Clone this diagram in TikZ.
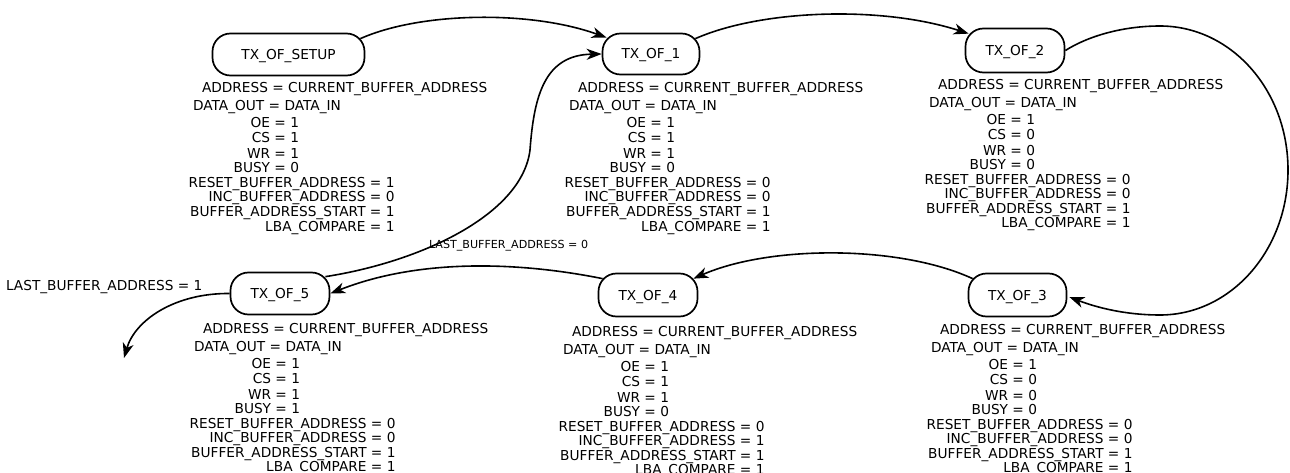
\documentclass[tikz,border=0pt]{standalone}
\usepackage{fontspec}
\setmainfont{DejaVu Sans}
\usetikzlibrary{arrows.meta}

\tikzset{
  state/.style={draw, line width=1.7pt, rounded corners=18pt, inner sep=0pt,
    font=\fontsize{13.7}{16}\selectfont, text height=10pt, text depth=0pt},
  val/.style={inner sep=0pt, outer sep=0pt, font=\fontsize{13.7}{16}\selectfont},
  small/.style={inner sep=0pt, outer sep=0pt, font=\fontsize{11.1}{13}\selectfont},
  trans/.style={line width=1.6pt, -{Stealth[length=15pt,width=11pt,inset=4.5pt]}},
}

% Output assignments of one state, placed relative to (#2,#3)
% #1 name prefix, #4 OE, #5 CS, #6 WR, #7 BUSY, #8 RESET_BUFFER_ADDRESS, #9 INC_BUFFER_ADDRESS
\newcommand\stateoutputs[9]{%
  \begin{scope}[shift={(#2,#3)}]
    \node[val, anchor=base west] (#1-addr) at (0,5)    {ADDRESS = CURRENT\_BUFFER\_ADDRESS};
    \node[val, anchor=base west] (#1-dout) at (-9,23)  {DATA\_OUT = DATA\_IN};
    \node[val, anchor=base east] (#1-oe)   at (97,40)  {OE = #4};
    \node[val, anchor=base east] (#1-cs)   at (97,55)  {CS = #5};
    \node[val, anchor=base east] (#1-wr)   at (97,71)  {WR = #6};
    \node[val, anchor=base east] (#1-busy) at (97,85)  {BUSY = #7};
    \node[val, anchor=base east] (#1-rst)  at (192.5,100) {RESET\_BUFFER\_ADDRESS = #8};
    \node[val, anchor=base east] (#1-inc)  at (192.5,114) {INC\_BUFFER\_ADDRESS = #9};
    \node[val, anchor=base east] (#1-bas)  at (192.5,129) {BUFFER\_ADDRESS\_START = 1};
    \node[val, anchor=base east] (#1-lba)  at (192.5,143) {LBA\_COMPARE = 1};
  \end{scope}}

\begin{document}
\begin{tikzpicture}[x=1pt, y=-1pt]
  \path[fill=white] (0,0) rectangle (1290,473);
  \useasboundingbox (0,0) rectangle (1290,473);

  % states
  \node[state, minimum width=152pt, minimum height=42pt] (setup) at (288.5,54.5) {TX\_OF\_SETUP};
  \node[state, minimum width=97pt,  minimum height=41pt] (tx1) at (651,54)     {TX\_OF\_1};
  \node[state, minimum width=99pt,  minimum height=44pt] (tx2) at (1015,50.5)  {TX\_OF\_2};
  \node[state, minimum width=98pt,  minimum height=43pt] (tx3) at (1017.5,295) {TX\_OF\_3};
  \node[state, minimum width=99pt,  minimum height=43pt] (tx4) at (648,295)    {TX\_OF\_4};
  \node[state, minimum width=99pt,  minimum height=42pt] (tx5) at (280,293.5)  {TX\_OF\_5};

  % outputs of each state
  \stateoutputs{os}{202}{88}{1}{1}{1}{0}{1}{0}
  \stateoutputs{o1}{578}{88}{1}{1}{1}{0}{0}{0}
  \stateoutputs{o2}{938}{85}{1}{0}{0}{0}{0}{0}
  \stateoutputs{o3}{940}{329}{1}{0}{0}{0}{0}{0}
  \stateoutputs{o4}{572}{331}{1}{1}{1}{0}{0}{1}
  \stateoutputs{o5}{203}{328}{1}{1}{1}{1}{0}{0}

  % transitions
  \draw[trans] ([shift={(-5,6)}]setup.north east)
    .. controls (420,12) and (530,10) .. ([shift={(5,5)}]tx1.north west);
  \draw[trans] ([shift={(-5,6)}]tx1.north east)
    .. controls (760,10) and (880,5) .. ([shift={(4,6)}]tx2.north west);
  \draw[trans] (tx2.east)
    .. controls (1090,35) and (1125,26) .. (1160,26)
    .. controls (1231,26) and (1288,90) .. (1288,170)
    .. controls (1288,250) and (1231,315) .. (1160,315)
    .. controls (1120,315) and (1090,305) .. ([shift={(2,2)}]tx3.east);
  \draw[trans] ([shift={(5,6)}]tx3.north west)
    .. controls (900,245) and (770,245) .. ([shift={(-5,6)}]tx4.north east);
  \draw[trans] ([shift={(5,6)}]tx4.north west)
    .. controls (520,262) and (420,258) .. (tx5.east);
  \draw[trans] ([shift={(-5,5)}]tx5.north east)
    .. controls (420,262) and (522,215) .. (530,150)
    .. controls (534,95) and (545,55) .. (tx1.west);
  \coordinate (exit) at (124,358);
  \draw[trans] (tx5.west) .. controls (175,293) and (135,320) .. (exit);

  % transition conditions
  \node[small, anchor=base west] (c0) at (429,248) {LAST\_BUFFER\_ADDRESS = 0};
  \node[val, anchor=base west] (c1) at (6,290) {LAST\_BUFFER\_ADDRESS = 1};
\end{tikzpicture}
\end{document}
